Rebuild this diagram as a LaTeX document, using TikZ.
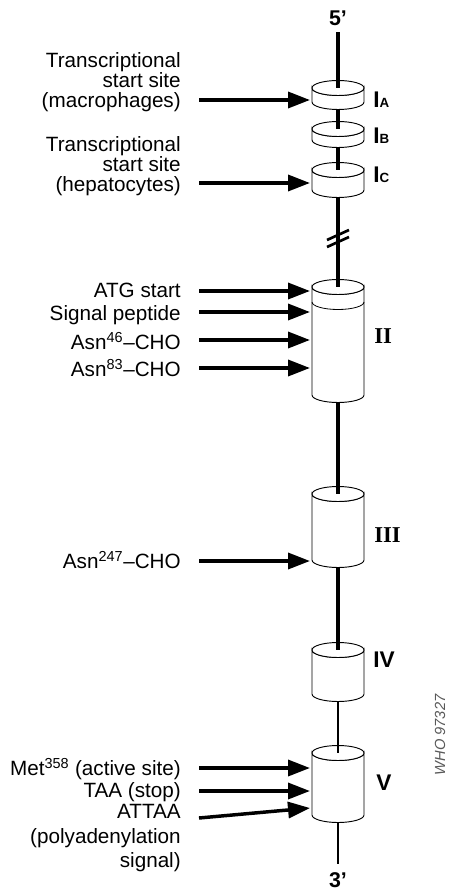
\documentclass[tikz,border=0pt]{standalone}
\usepackage{fontspec}
\setmainfont{Liberation Sans}
\newfontfamily\serifface{Liberation Serif}
\usetikzlibrary{arrows.meta}
\newcommand{\drawcyl}[3]{%
  \path[cylline] (312,#2) -- (312,#3) arc[start angle=180,end angle=0,x radius=26,y radius=7.5] -- (364,#2) arc[start angle=0,end angle=180,x radius=26,y radius=7.5] -- cycle;
  \draw[cylline] (338,#2) ellipse[x radius=26,y radius=7.5];
  \coordinate (#1t) at (338,#2);
  \coordinate (#1b) at (338,{#3+7.5});
}
\begin{document}
\begin{tikzpicture}[x=0.75pt,y=-0.75pt,
  cylline/.style={draw=black,line width=0.7pt,fill=white},
  axisline/.style={line width=2.3pt},
  arr/.style={line width=2.6pt,-{Triangle[length=16.5pt,width=12pt]}},
  lbl/.style={font=\fontsize{15.5}{15.5}\selectfont,align=right,anchor=east,inner sep=0pt},
  exon/.style={font=\fontsize{17}{17}\selectfont\bfseries,anchor=west,inner sep=0pt},
  primelbl/.style={font=\fontsize{16}{16}\selectfont\bfseries,inner sep=0pt},
  slash/.style={line width=2pt}]
\useasboundingbox (0,0) rectangle (462,891);

% exons
\drawcyl{IA}{88}{102}
\drawcyl{IB}{129}{140}
\drawcyl{IC}{170}{190}
\drawcyl{II}{287}{395}
\draw[line width=0.6pt] (312,302) arc[start angle=180,end angle=0,x radius=26,y radius=7.5];
\drawcyl{III}{494}{560}
\drawcyl{IV}{650}{694}
\drawcyl{V}{753}{815}

% ends
\node[primelbl] (five) at (338,18) {5\char39};
\node[primelbl] (three) at (338,880) {3\char39};

% axis
\draw[axisline,shorten <=5pt] (five.south) -- (IAt);
\draw[axisline] (IAb) -- (IBt);
\draw[axisline] (IBb) -- (ICt);
\draw[axisline] (ICb) -- (IIt);
\draw[slash] (327,240) -- (349,230);
\draw[slash] (327,247) -- (349,237);
\draw[axisline] (IIb) -- (IIIt);
\draw[axisline] (IIIb) -- (IVt);
\draw[line width=1.7pt] (IVb) -- (Vt);
\draw[line width=1pt,shorten >=6pt] (Vb) -- (three.north);

% exon labels
\node[exon] (lA) at (373,100) {I{\fontsize{10}{10}\selectfont A}};
\node[exon] (lB) at (373,136) {I{\fontsize{10}{10}\selectfont B}};
\node[exon] (lC) at (373,175) {I{\fontsize{10}{10}\selectfont C}};
\node[exon,font=\fontsize{17}{17}\selectfont\bfseries\serifface] (lII) at (374,336) {II};
\node[exon,font=\fontsize{17}{17}\selectfont\bfseries\serifface] (lIII) at (374,535) {III};
\node[exon] (lIV) at (373,660) {IV};
\node[exon] (lV) at (376,783) {V};

% left labels
\node[lbl] (mac) at (181,82) {Transcriptional\\[-0.3pt]start site\\[-0.3pt](macrophages)};
\node[lbl] (hep) at (181,166) {Transcriptional\\[-0.3pt]start site\\[-0.3pt](hepatocytes)};
\node[lbl] (atg) at (181,290) {ATG start};
\node[lbl] (sig) at (181,315) {Signal peptide};
\node[lbl] (n46) at (181,341) {Asn\textsuperscript{46}--CHO};
\node[lbl] (n83) at (181,368) {Asn\textsuperscript{83}--CHO};
\node[lbl] (n247) at (181,560) {Asn\textsuperscript{247}--CHO};
\node[lbl] (met) at (181,769) {Met\textsuperscript{358} (active site)};
\node[lbl] (taa) at (181,792) {TAA (stop)};
\node[lbl,anchor=north east] (attaa) at (181,804) {ATTAA\\[3pt](polyadenylation\\[3pt]signal)};

% arrow coordinates
\coordinate (sA) at (199,100);  \coordinate (tA) at (310,100);
\coordinate (sC) at (199,183);  \coordinate (tC) at (310,183);
\coordinate (s1) at (199,291);  \coordinate (t1) at (310,291);
\coordinate (s2) at (199,312);  \coordinate (t2) at (310,312);
\coordinate (s3) at (199,340);  \coordinate (t3) at (310,340);
\coordinate (s4) at (199,368);  \coordinate (t4) at (310,368);
\coordinate (s5) at (199,561);  \coordinate (t5) at (310,561);
\coordinate (s6) at (199,768);  \coordinate (t6) at (310,768);
\coordinate (s7) at (199,791);  \coordinate (t7) at (310,791);
\coordinate (s8) at (199,818);  \coordinate (t8) at (310,808);
\foreach \i in {A,C,1,2,3,4,5,6,7,8} \draw[arr] (s\i) -- (t\i);

% figure code
\node[rotate=90,font=\fontsize{11}{11}\selectfont\itshape,text=black!65,inner sep=0pt] (who) at (440,735) {WHO 97327};
\end{tikzpicture}
\end{document}
